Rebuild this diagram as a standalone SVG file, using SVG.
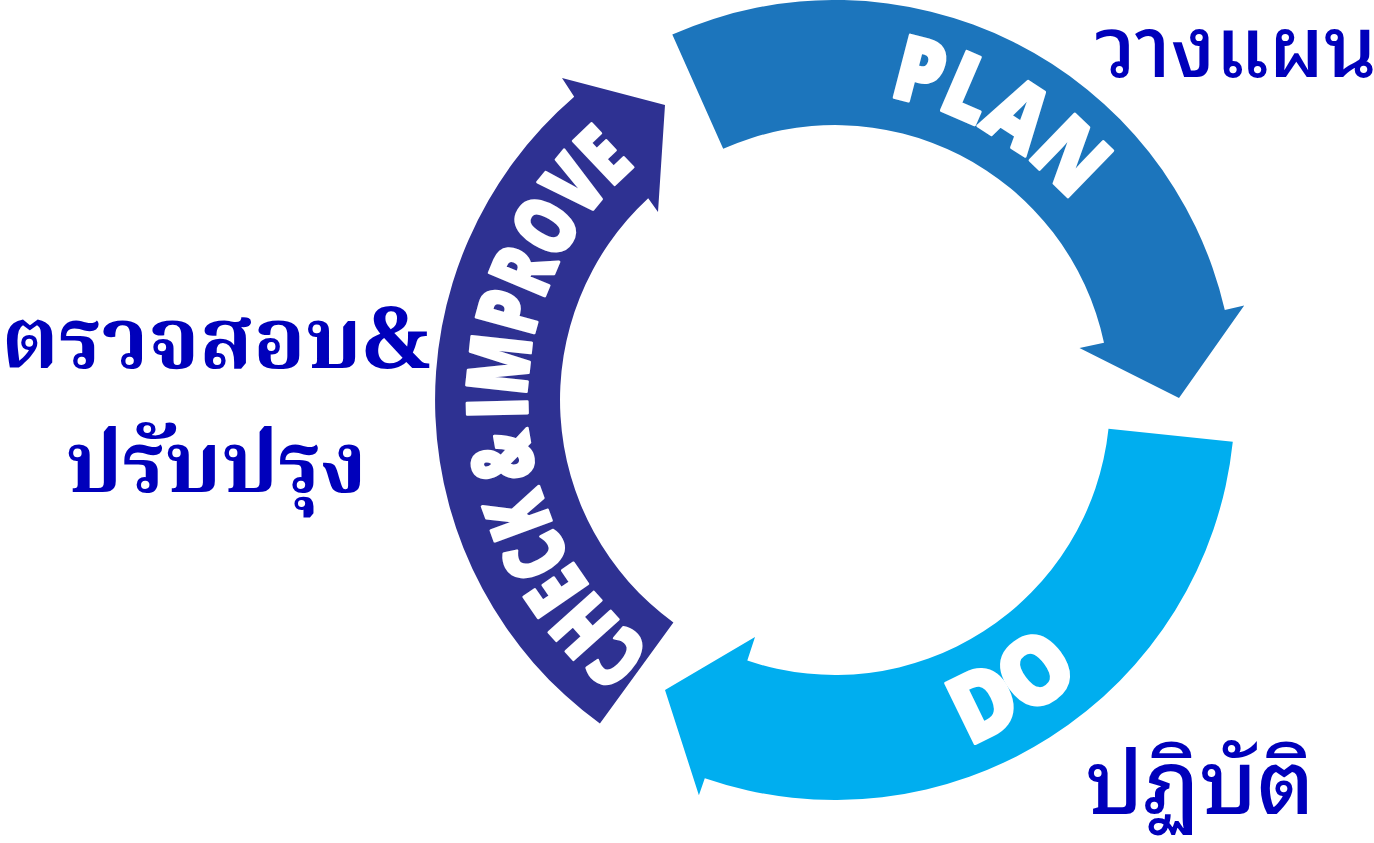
<svg xmlns="http://www.w3.org/2000/svg" xmlns:xlink="http://www.w3.org/1999/xlink" width="1374" height="843" viewBox="0 0 1374 843">
  <style>
    .lbl { font-family: "Open Sans", "Liberation Sans", sans-serif; font-weight: 800; fill: #ffffff; stroke: #ffffff; stroke-width: 3; stroke-linejoin: round; }
    .thai { font-family: "Noto Sans Thai Looped", "Noto Sans Thai", "Tahoma", "Loma", "Garuda", "Noto Sans", sans-serif; font-weight: 500; fill: #0000BB; }
    .thaiserif { font-family: "Noto Serif Thai", "Norasi", "Kinnari", "Noto Sans Thai", "Liberation Serif", serif; font-weight: bold; fill: #0000BB; }
  </style>
  <defs>
    <path id="pPlan" d="M 781.5 96.7 A 308 308 0 0 1 1124.4 294.7"/>
    <path id="pDo" d="M 844.7 769.9 A 370 370 0 0 0 1160.2 576.6"/>
    <path id="pCheck" d="M 690.4 671.9 A 308 308 0 0 1 671.8 138.8"/>
  </defs>
  <rect width="1374" height="843" fill="#ffffff"/>
  <g id="connectors">
    <g id="plan-arrow">
      <path d="M 672.3 34.6 A 400 400 0 0 1 1224.8 310 L 1244.2 305.5 L 1179 398 L 1079.5 348 L 1104 342.8 A 275 275 0 0 0 723.2 148.8 Z" fill="#1C75BC"/>
      <text class="lbl" font-size="90"><textPath xlink:href="#pPlan" href="#pPlan" startOffset="50%" text-anchor="middle" textLength="216" lengthAdjust="spacingAndGlyphs">PLAN</textPath></text>
    </g>
    <g id="do-arrow">
      <path d="M 1232.8 441.8 A 400 400 0 0 1 704.8 778.2 L 698.9 795.2 L 665 690 L 755 637 L 747.3 660.6 A 275 275 0 0 0 1108.5 428.7 Z" fill="#00AEEF"/>
      <text class="lbl" font-size="94"><textPath xlink:href="#pDo" href="#pDo" startOffset="50%" text-anchor="middle" textLength="134" lengthAdjust="spacingAndGlyphs">DO</textPath></text>
    </g>
    <g id="check-arrow">
      <path d="M 599.9 723.6 A 400 400 0 0 1 574.2 96.8 L 562 78 L 665 105 L 658 212 L 648.2 198.2 A 275 275 0 0 0 673.4 622.5 Z" fill="#2E3192"/>
      <text class="lbl" font-size="84" word-spacing="-8"><textPath xlink:href="#pCheck" href="#pCheck" startOffset="50%" text-anchor="middle" textLength="555" lengthAdjust="spacingAndGlyphs">CHECK &amp; IMPROVE</textPath></text>
    </g>
  </g>
  <g id="label-plan">
    <text class="thai" x="1236" y="77" font-size="84" text-anchor="middle">วางแผน</text>
  </g>
  <g id="label-do">
    <text class="thai" x="1200" y="814" font-size="88" text-anchor="middle">ปฏิบัติ</text>
  </g>
  <g id="label-check">
    <text class="thaiserif" x="216" y="368" font-size="86" text-anchor="middle">ตรวจสอบ&amp;</text>
    <text class="thaiserif" x="216" y="492" font-size="86" text-anchor="middle">ปรับปรุง</text>
  </g>
</svg>
